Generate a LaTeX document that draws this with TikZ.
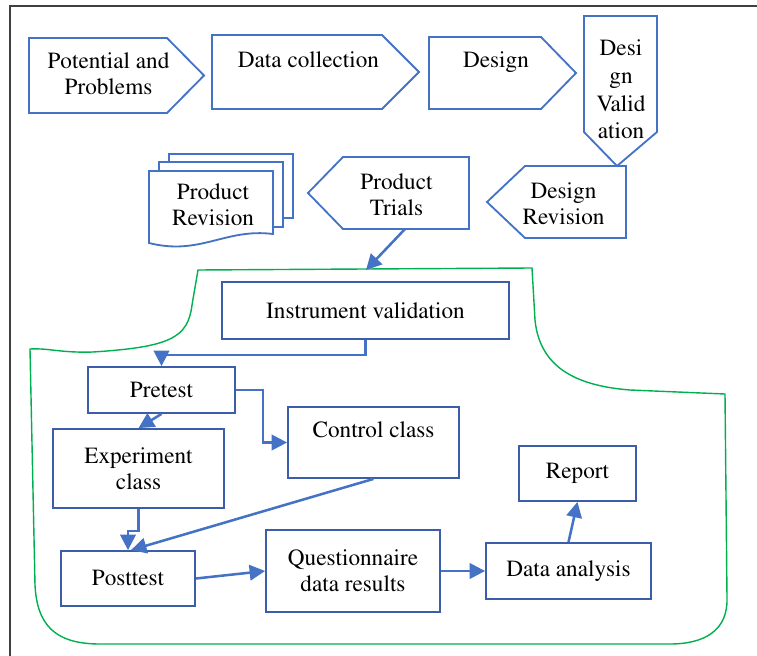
\documentclass[tikz,border=0pt]{standalone}
\usepackage[T1]{fontenc}
\renewcommand\rmdefault{ptm}
\usetikzlibrary{arrows.meta}
\definecolor{shapeblue}{RGB}{68,114,196}
\definecolor{boxblue}{RGB}{60,94,170}
\definecolor{linegreen}{RGB}{0,176,80}
\definecolor{framegray}{RGB}{64,64,64}
\newcommand\pxu{0.025cm}
\tikzset{
  shapeline/.style={draw=shapeblue, line width=1.3pt, line join=miter},
  txt/.style={align=center, inner sep=0pt},
  box/.style={draw=boxblue, line width=1.3pt, align=center, inner sep=0pt},
  flow/.style={draw=shapeblue, line width=1.8pt, -{Triangle[length=11pt,width=11pt]}}
}
\begin{document}
\begin{tikzpicture}[x=0.025cm, y=-0.025cm, font=\rmfamily\fontsize{16.5}{18.5}\selectfont]
    \useasboundingbox (0,0) rectangle (757,656);
    % 外框
    \draw[framegray, line width=1.2pt] (10,656) -- (10,6) -- (757,6);

    % 上排
    \draw[shapeline] (29,38) -- (167,38) -- (204,75.5) -- (167,113) -- (29,113) -- cycle;
    \node[txt] (pp) at (108.5,74) {Potential and\\Problems};
    \draw[shapeline] (212,35) -- (382,35) -- (419,72) -- (382,109) -- (212,109) -- cycle;
    \node[txt] (dc) at (308.5,60) {Data collection};
    \draw[shapeline] (429,37) -- (541,37) -- (576,73) -- (541,109) -- (429,109) -- cycle;
    \node[txt] (ds) at (496,62) {Design};
    \draw[shapeline] (584,16) -- (657,16) -- (657,132) -- (617,166) -- (584,132) -- cycle;
    \node[txt] (dv) at (621,89.5) {Desi\\[1.2pt]gn\\[1.2pt]Valid\\[1.2pt]ation};

    % 第二排
    \draw[shapeline] (626,166) -- (626,238) -- (525,238) -- (487,202) -- (525,166) -- cycle;
    \node[txt] (dr) at (563.5,204) {Design\\Revision};
    \draw[shapeline] (469,157) -- (469,229) -- (343,229) -- (308,193) -- (343,157) -- cycle;
    \node[txt] (pt) at (396.5,195) {Product\\Trials};
    \draw[shapeline, fill=white] (169,154) rectangle (293,218);
    \draw[shapeline, fill=white] (159,162) rectangle (283,227);
    \draw[shapeline, fill=white] (149,171) -- (273,171) -- (273,234)
        .. controls (225,228) and (200,256) .. (149,243) -- cycle;
    \node[txt] (prv) at (213,205) {Product\\Revision};

    % 试验区域
    \draw[linegreen, line width=1pt] (30,349) .. controls (50,348) and (60,353) .. (93,352)
        .. controls (170,347) and (188,338) .. (192,305) -- (198,270) -- (532,268)
        -- (535,320) .. controls (540,370) and (580,386) .. (630,390) -- (725,394)
        -- (727,598) .. controls (728,630) and (705,644) .. (670,644) -- (100,644)
        .. controls (55,644) and (37,625) .. (35,585) -- cycle;
    \coordinate (ptout) at (405,229);
    \coordinate (grin) at (366,270);
    \draw[flow] (ptout) -- (grin);

    \node[box, minimum width=287*\pxu, minimum height=57*\pxu] (iv) at (365.5,310.5) {Instrument validation};
    \node[box, minimum width=147*\pxu, minimum height=46*\pxu] (pre) at (161.5,390) {Pretest};
    \node[box, minimum width=171*\pxu, minimum height=71*\pxu] (cc) at (373.5,442.5) {Control class\\\mbox{}};
    \node[box, minimum width=171*\pxu, minimum height=79*\pxu] (ec) at (138.5,468.5) {Experiment\\class};
    \node[box, minimum width=134*\pxu, minimum height=55*\pxu] (post) at (128,578.5) {Posttest};
    \node[box, minimum width=174*\pxu, minimum height=82*\pxu] (qdr) at (353,571) {Questionnaire\\data results};
    \node[box, minimum width=165*\pxu, minimum height=56*\pxu] (da) at (568.5,571) {Data analysis};
    \node[box, minimum width=117*\pxu, minimum height=55*\pxu] (rep) at (577.5,473.5) {Report};

    \draw[flow] (iv.south) -- ++(0,15) -| (pre.north);
    \draw[flow] (pre.south) -- (ec.north);
    \draw[flow] (pre.east) -- ++(27,0) |- (cc.west);
    \draw[flow] (ec.south) -- ++(0,22) -| (post.north);
    \draw[flow] (cc.south) -- ([xshift=3*\pxu]post.north);
    \draw[flow] (post.east) -- (qdr.west);
    \draw[flow] (qdr.east) -- (da.west);
    \draw[flow] (da.north) -- (rep.south);
\end{tikzpicture}
\end{document}
